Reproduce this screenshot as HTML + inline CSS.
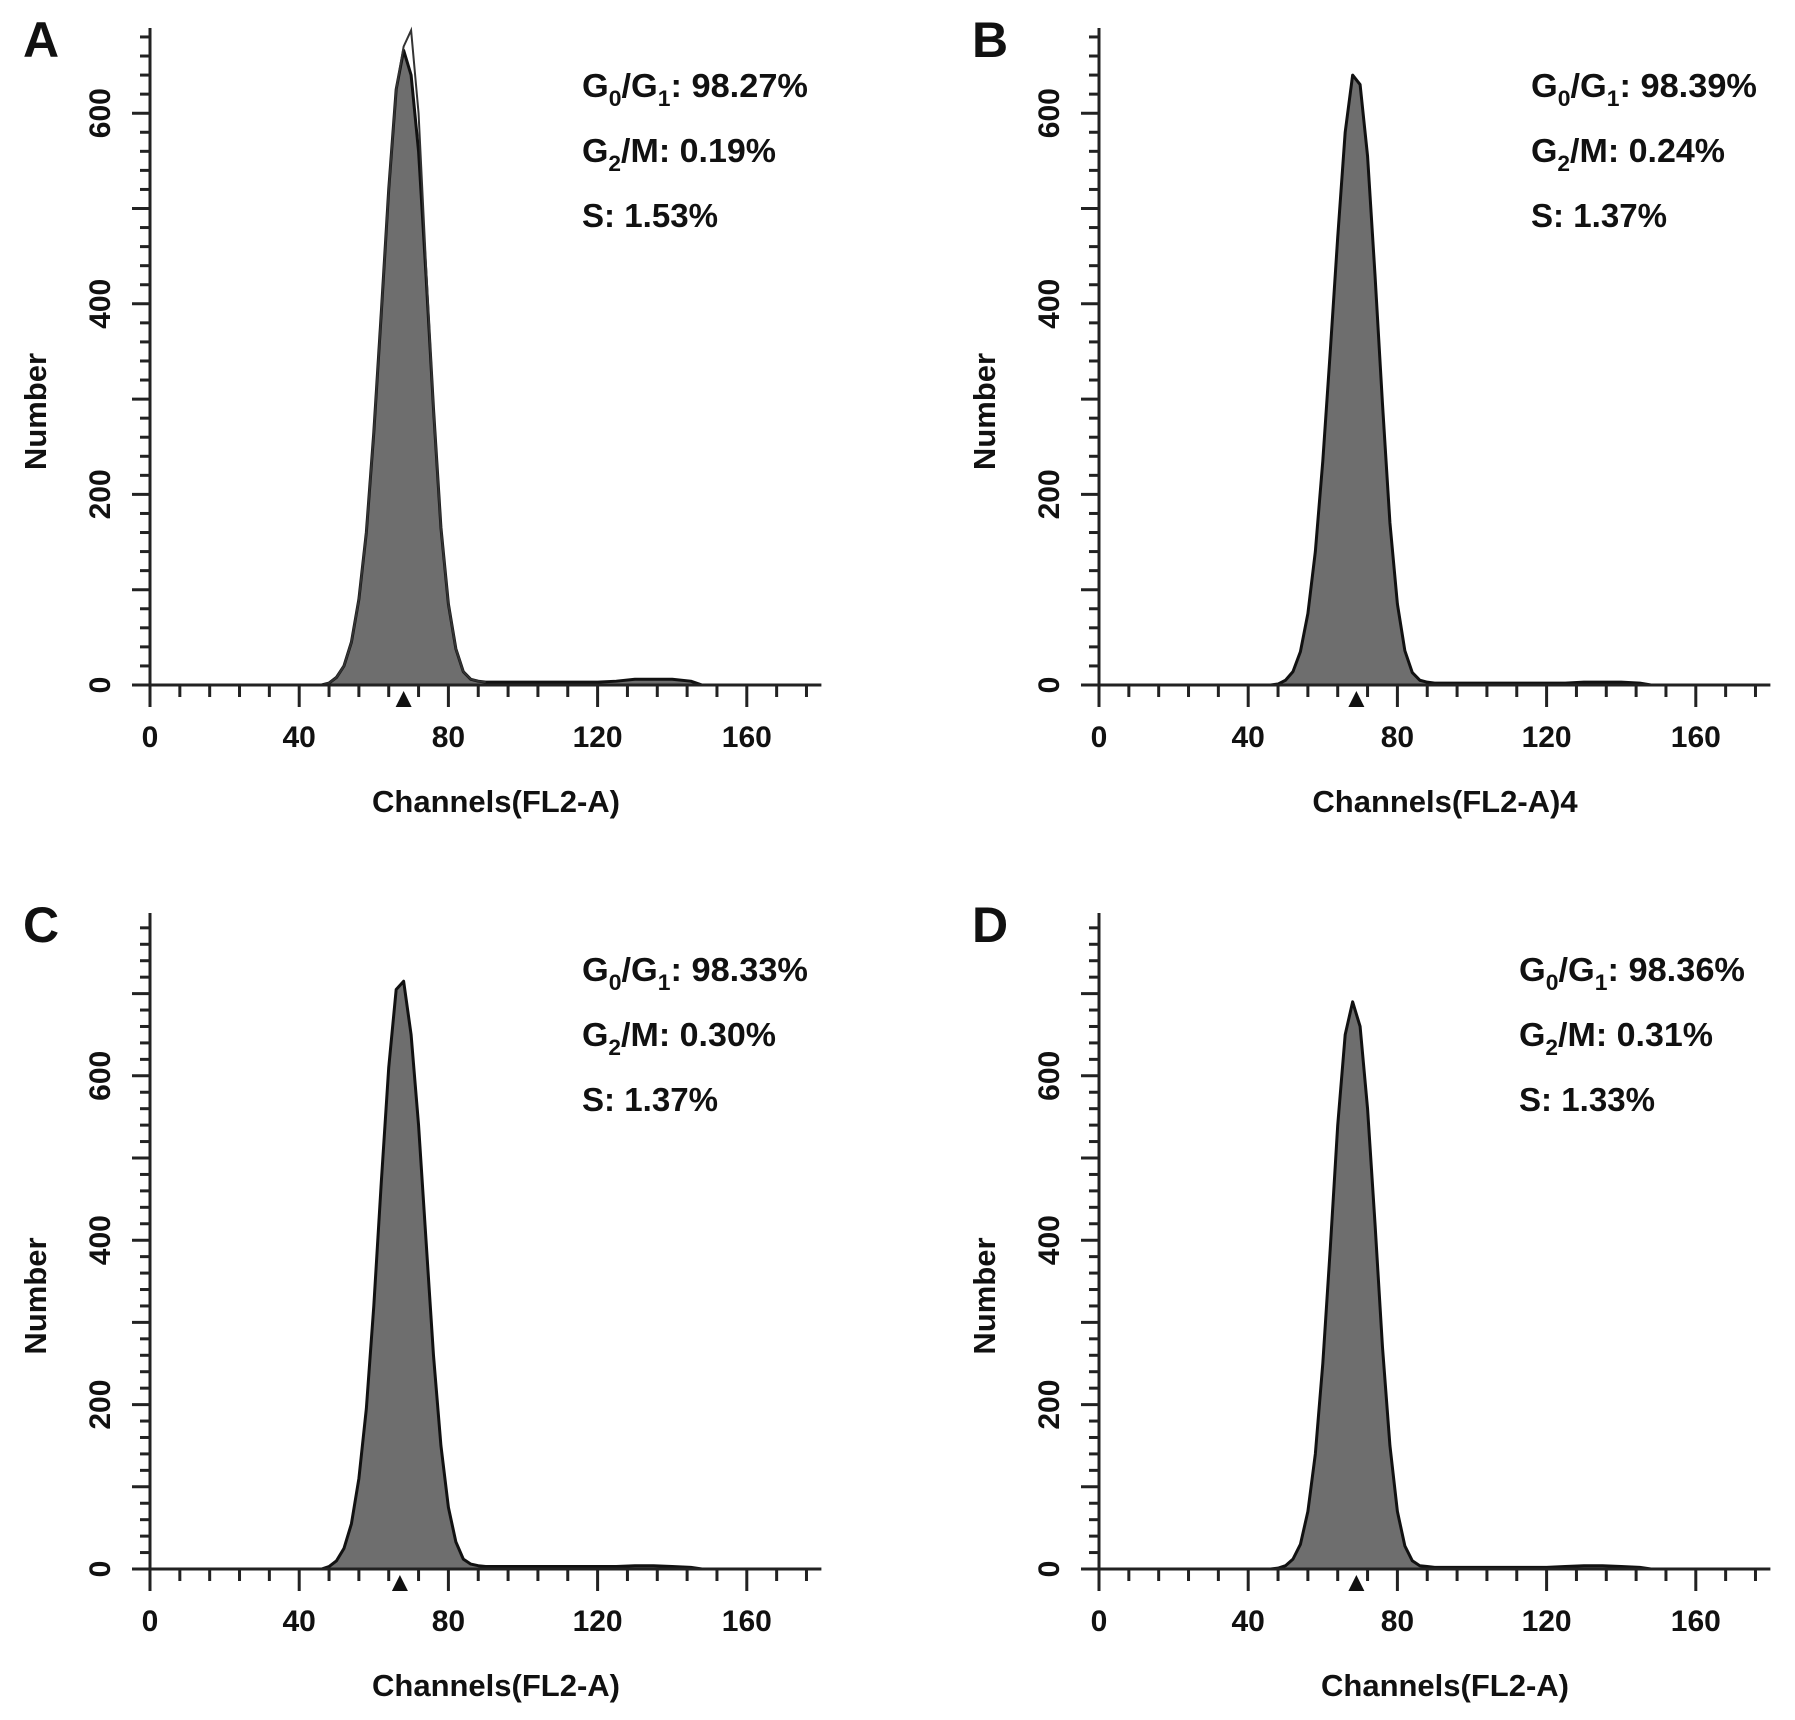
<!DOCTYPE html>
<html><head><meta charset="utf-8"><style>
html,body{margin:0;padding:0;background:#fff}
svg{display:block}
text{font-family:"Liberation Sans",sans-serif;font-weight:bold;fill:#111}
</style></head><body>
<svg id="fig" width="1795" height="1720" viewBox="0 0 1795 1720"></svg>
<script>
// shared channel axis for peak data
const channels = [46,48,50,52,54,56,58,60,62,64,66,68,70,72,74,76,78,80,82,84,86,88,90];
const countsA = [0,2,8,20,45,90,160,265,390,520,625,666,640,560,430,290,165,85,38,14,6,4,3];
const countsB = [0,1,5,14,35,75,140,235,350,470,580,640,630,555,430,295,170,85,36,13,5,3,2];
const countsC = [0,3,10,25,55,110,195,320,470,610,705,715,650,540,400,260,150,75,33,12,6,4,3];
const countsD = [0,1,4,12,30,70,140,250,390,540,650,690,660,560,420,270,150,70,28,10,4,3,2];
const outlineA = [0,2,8,20,45,90,160,265,390,520,625,670,687,600,440,290,165,85,38,14,6,4,3];
const tailChannels = [90,100,110,120,125,130,135,140,145,148];
const tailA = [3,3,3,3,4,6,6,6,4,0];
const tailB = [2,2,2,2,2,3,3,3,2,0];
const tailC = [3,3,3,3,3,4,4,3,2,0];
const tailD = [2,2,2,2,3,4,4,3,2,0];
const peakChannel = [68,69,67,69];
const xTicks = [0,40,80,120,160];
const yTicks = [0,200,400,600];
const panelLetters = ["A","B","C","D"];
const xLabels = ["Channels(FL2-A)","Channels(FL2-A)4","Channels(FL2-A)","Channels(FL2-A)"];
const g0g1 = ["98.27","98.39","98.33","98.36"];
const g2m = ["0.19","0.24","0.30","0.31"];
const sPhase = ["1.53","1.37","1.37","1.33"];

const NS="http://www.w3.org/2000/svg";
const svg=document.getElementById('fig');
function mk(tag,attrs,parent,txt){const e=document.createElementNS(NS,tag);for(const k in attrs)e.setAttribute(k,attrs[k]);if(txt!==undefined)e.textContent=txt;(parent||svg).appendChild(e);return e;}

const panels=[
 {x0:150,y0:685,top:28,ppu:0.953,counts:countsA,outline:outlineA,tail:tailA},
 {x0:1099,y0:685,top:28,ppu:0.953,counts:countsB,outline:null,tail:tailB},
 {x0:150,y0:1569,top:913,ppu:0.822,counts:countsC,outline:null,tail:tailC},
 {x0:1099,y0:1569,top:913,ppu:0.822,counts:countsD,outline:null,tail:tailD}
];
const ppc=3.73;

panels.forEach((p,i)=>{
  const g=mk('g',{});
  
  
  const X=c=>p.x0+c*ppc, Y=v=>p.y0-v*p.ppu;
  // histogram fill
  let pts=[[X(channels[0]),Y(0)]];
  channels.forEach((c,k)=>pts.push([X(c),Y(p.counts[k])]));
  tailChannels.forEach((c,k)=>pts.push([X(c),Y(p.tail[k])]));
  pts.push([X(tailChannels[tailChannels.length-1]),Y(0)]);
  const hist=mk('polygon',{points:pts.map(q=>q.join(',')).join(' '),fill:'#6e6e6e',stroke:'#111','stroke-width':3,'stroke-linejoin':'round'},g);
  
  
  if(p.outline){
    const ol=mk('polyline',{points:channels.map((c,k)=>X(c)+','+Y(p.outline[k])).join(' '),fill:'none',stroke:'#333','stroke-width':2},g);
    
    
  }
  // axes
  const ax=mk('g',{stroke:'#222','stroke-width':3},g);
  
  
  mk('line',{x1:p.x0,y1:p.top,x2:p.x0,y2:p.y0+20},ax);
  mk('line',{x1:p.x0-18,y1:p.y0,x2:X(180),y2:p.y0},ax);
  for(let c=0;c<=176;c+=8){const major=c%40===0;mk('line',{x1:X(c),y1:p.y0,x2:X(c),y2:p.y0+(major?22:12)},ax);}
  for(let v=20;Y(v)>p.top;v+=20){const major=v%100===0;mk('line',{x1:p.x0,y1:Y(v),x2:p.x0-(major?18:10),y2:Y(v)},ax);}
  xTicks.forEach(t=>{const e=mk('text',{x:X(t),y:p.y0+62,'font-size':30,'text-anchor':'middle'},g,String(t));
    });
  yTicks.forEach(t=>{const e=mk('text',{x:0,y:0,'font-size':30,'text-anchor':'middle',transform:`translate(${p.x0-40},${Y(t)}) rotate(-90)`},g,String(t));
    });
  // peak marker
  const pc=X(peakChannel[i]);
  const mkr=mk('polygon',{points:`${pc-8},${p.y0+22} ${pc+8},${p.y0+22} ${pc},${p.y0+6}`,fill:'#111'},g);
  
  // labels
  const xl=mk('text',{x:p.x0+346,y:p.y0+127,'font-size':31,'text-anchor':'middle'},g,xLabels[i]);
  
  const mid=(p.top+p.y0)/2+55;
  const yl=mk('text',{x:0,y:0,'font-size':31,'text-anchor':'middle',transform:`translate(${p.x0-104},${mid}) rotate(-90)`},g,'Number');
  
  const lt=mk('text',{x:p.x0-127,y:p.top+29,'font-size':50},g,panelLetters[i]);
  
  // stats
  const sx=p.x0+432-(i===3?12:0), sy=p.y0-588;
  const t1=mk('text',{x:sx,y:sy,'font-size':33,textLength:226,lengthAdjust:'spacingAndGlyphs'},g);
  
  t1.innerHTML=`G<tspan font-size="22" dy="9">0</tspan><tspan dy="-9">/G</tspan><tspan font-size="22" dy="9">1</tspan><tspan dy="-9">: ${g0g1[i]}%</tspan>`;
  const t2=mk('text',{x:sx,y:sy+65,'font-size':33,textLength:194,lengthAdjust:'spacingAndGlyphs'},g);
  
  t2.innerHTML=`G<tspan font-size="22" dy="9">2</tspan><tspan dy="-9">/M: ${g2m[i]}%</tspan>`;
  const t3=mk('text',{x:sx,y:sy+130,'font-size':33,textLength:136,lengthAdjust:'spacingAndGlyphs'},g,`S: ${sPhase[i]}%`);
  
});
</script>
</body></html>
